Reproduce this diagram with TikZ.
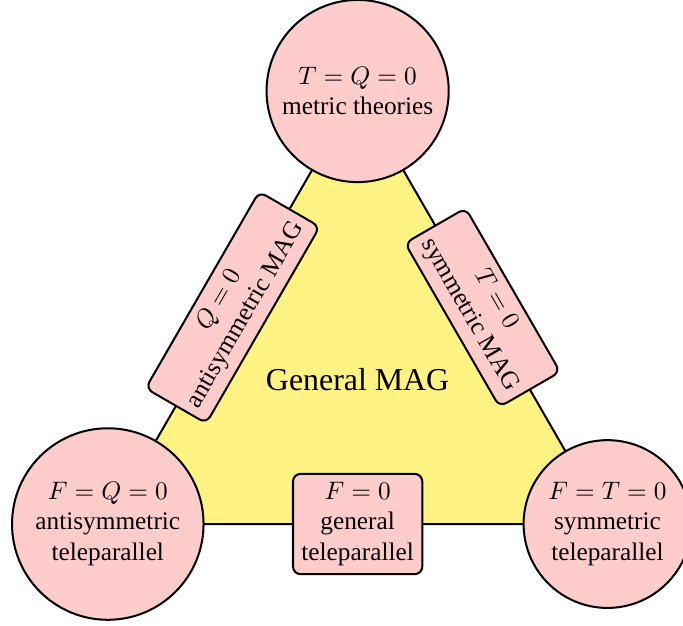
\documentclass[tikz,border=0pt]{standalone}
\usepackage{fontspec}
\setmainfont{Liberation Serif}
\usetikzlibrary{calc}
\definecolor{magyellow}{HTML}{FFF384}
\definecolor{magpink}{HTML}{FFCCCC}

\begin{document}
\begin{tikzpicture}[thick]
        \tikzstyle{vtx}=[draw,circle,fill=magpink,align=center,inner sep=1pt]
        \tikzstyle{lbl}=[draw,rounded corners=3pt,fill=magpink,align=center]
        \useasboundingbox (0,0) rectangle (9.486,8.681);
        % corners of the triangle
        \coordinate (pt) at (4.967,7.417);
        \coordinate (pl) at (1.497,1.403);
        \coordinate (pr) at (8.437,1.403);
        \filldraw[fill=magyellow] (pt) -- (pl) -- (pr) -- cycle;
        \node[vtx,minimum size=2.53cm] (met) at (pt) {$T=Q=0$\\metric theories};
        \node[vtx,minimum size=2.66cm] (ats) at (pl) {$F=Q=0$\\antisymmetric\\teleparallel};
        \node[vtx,minimum size=2.33cm] (sts) at (pr) {$F=T=0$\\symmetric\\teleparallel};
        % labels on the edges
        \node[lbl,rotate=60] (amag) at ($(pt)!0.5!(pl)$) {$Q=0$\\antisymmetric MAG};
        \node[lbl,rotate=-60] (smag) at ($(pt)!0.5!(pr)$) {$T=0$\\symmetric MAG};
        \node[lbl] (gtp) at ($(pl)!0.5!(pr)$) {$F=0$\\general\\teleparallel};
        \node[font=\fontsize{12.6}{15}\selectfont] (gmag) at (barycentric cs:pt=1,pl=1,pr=1) {General MAG};
\end{tikzpicture}
\end{document}
